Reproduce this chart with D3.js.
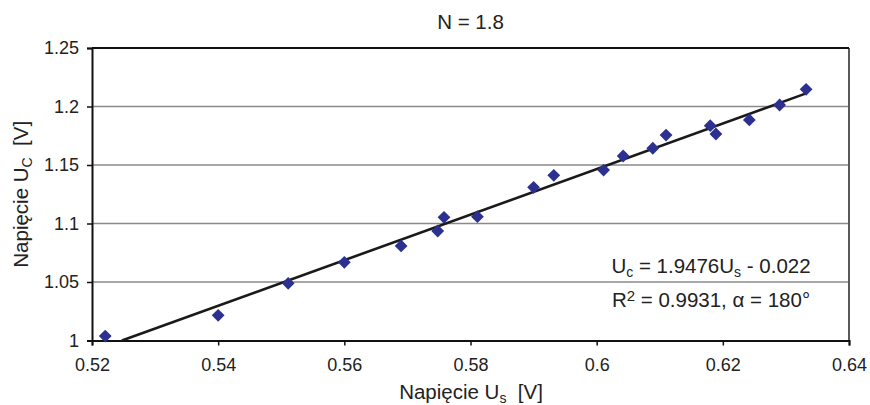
<!DOCTYPE html>
<html>
<head>
<meta charset="utf-8">
<script src="https://cdn.jsdelivr.net/npm/d3@7/dist/d3.min.js"></script>
<style>
  html, body { margin: 0; padding: 0; background: #fff; }
  svg { display: block; font-family: "Liberation Sans", Arial, sans-serif; }
</style>
</head>
<body>
<svg id="chart" width="870" height="405"></svg>
<script>
// Measured voltages: U_s (x) and U_c (y)
const usValues = [0.5221, 0.5400, 0.5511, 0.5600, 0.5690, 0.5748, 0.5758, 0.5811, 0.5900, 0.5932,
                  0.6011, 0.6042, 0.6089, 0.6110, 0.6180, 0.6189, 0.6242, 0.6290, 0.6332];
const ucValues = [1.0038, 1.0215, 1.0489, 1.0668, 1.0808, 1.0936, 1.1053, 1.1058, 1.1309, 1.1412,
                  1.1457, 1.1577, 1.1643, 1.1756, 1.1836, 1.1765, 1.1885, 1.2013, 1.2147];

// Linear fit U_c = slope * U_s + intercept
const fitSlope = 1.9476;
const fitIntercept = -0.022;

const xTicks = [0.52, 0.54, 0.56, 0.58, 0.6, 0.62, 0.64];
const yTicks = [1, 1.05, 1.1, 1.15, 1.2, 1.25];

const svg = d3.select("#chart");
const plotLeft = 92, plotRight = 849, plotTop = 48, plotBottom = 340.5;

const x = d3.scaleLinear().domain([0.52, 0.64]).range([plotLeft, plotRight]);
const y = d3.scaleLinear().domain([1, 1.25]).range([plotBottom, plotTop]);
const fmt = d => String(+d.toFixed(2));

// horizontal gridlines
svg.append("g").selectAll("line")
  .data(yTicks.filter(t => t > 1 && t < 1.25))
  .join("line")
  .attr("x1", plotLeft).attr("x2", plotRight)
  .attr("y1", d => y(d)).attr("y2", d => y(d))
  .attr("stroke", "#8a8a8a").attr("stroke-width", 1.5);

// plot frame
svg.append("line").attr("x1", plotRight).attr("x2", plotRight).attr("y1", plotTop).attr("y2", plotBottom)
  .attr("stroke", "#5a5a5a").attr("stroke-width", 2);
svg.append("line").attr("x1", plotLeft).attr("x2", plotRight).attr("y1", plotTop).attr("y2", plotTop)
  .attr("stroke", "#111").attr("stroke-width", 2);

// axes
const xAxis = svg.append("g").attr("transform", `translate(0,${plotBottom})`)
  .call(d3.axisBottom(x).tickValues(xTicks).tickFormat(fmt).tickSize(5).tickPadding(12.5));
const yAxis = svg.append("g").attr("transform", `translate(${plotLeft},0)`)
  .call(d3.axisLeft(y).tickValues(yTicks).tickFormat(fmt).tickSize(5).tickPadding(8));
[xAxis, yAxis].forEach(g => {
  g.select(".domain").attr("stroke", "#111").attr("stroke-width", 2);
  g.selectAll(".tick line").attr("stroke", "#111").attr("stroke-width", 1.5);
  g.selectAll(".tick text").attr("fill", "#222").style("font-size", "18px")
    .style("font-family", "'Liberation Sans', Arial, sans-serif");
});

// trend line, clipped to the plot's lower edge
const xMin = d3.min(usValues), xMax = d3.max(usValues);
const xStart = Math.max(xMin, (1 - fitIntercept) / fitSlope);
svg.append("line")
  .attr("x1", x(xStart)).attr("y1", y(fitSlope * xStart + fitIntercept))
  .attr("x2", x(xMax)).attr("y2", y(fitSlope * xMax + fitIntercept))
  .attr("stroke", "#1a1a1a").attr("stroke-width", 2.6);

// diamond markers
const points = usValues.map((u, i) => ({u, c: ucValues[i]}));
svg.append("g").selectAll("path")
  .data(points)
  .join("path")
  .attr("transform", d => `translate(${x(d.u)},${y(d.c)})`)
  .attr("d", "M0,-6.4L6.4,0L0,6.4L-6.4,0Z")
  .attr("fill", "#2b3091");

// title
svg.append("text").attr("x", 470.5).attr("y", 29).attr("text-anchor", "middle")
  .attr("fill", "#222").style("font-size", "20.5px").text("N = 1.8");

// x axis title
const xt = svg.append("text").attr("x", 471).attr("y", 399).attr("text-anchor", "middle")
  .attr("fill", "#222").style("font-size", "20.5px");
xt.append("tspan").text("Napięcie U");
xt.append("tspan").attr("dy", 4).style("font-size", "14px").text("s");
xt.append("tspan").attr("dy", -4).text("\u00a0\u00a0[V]");

// y axis title
const yt = svg.append("text").attr("transform", `translate(28,${(plotTop + plotBottom) / 2}) rotate(-90)`)
  .attr("text-anchor", "middle").attr("fill", "#222").style("font-size", "20.5px");
yt.append("tspan").text("Napięcie U");
yt.append("tspan").attr("dy", 4).style("font-size", "14px").text("C");
yt.append("tspan").attr("dy", -4).text("\u00a0\u00a0[V]");

// fit equation and statistics
const eq = svg.append("text").attr("x", 711).attr("y", 273).attr("text-anchor", "middle")
  .attr("fill", "#222").style("font-size", "20.5px");
eq.append("tspan").text("U");
eq.append("tspan").attr("dy", 4).style("font-size", "14px").text("c");
eq.append("tspan").attr("dy", -4).text(` = ${fitSlope}U`);
eq.append("tspan").attr("dy", 4).style("font-size", "14px").text("s");
eq.append("tspan").attr("dy", -4).text(` - ${Math.abs(fitIntercept)}`);

const r2 = svg.append("text").attr("x", 711).attr("y", 306.5).attr("text-anchor", "middle")
  .attr("fill", "#222").style("font-size", "20.5px");
r2.append("tspan").text("R");
r2.append("tspan").attr("dy", -6).style("font-size", "15px").text("2");
r2.append("tspan").attr("dy", 6).text(" = 0.9931, α = 180°");
</script>
</body>
</html>
